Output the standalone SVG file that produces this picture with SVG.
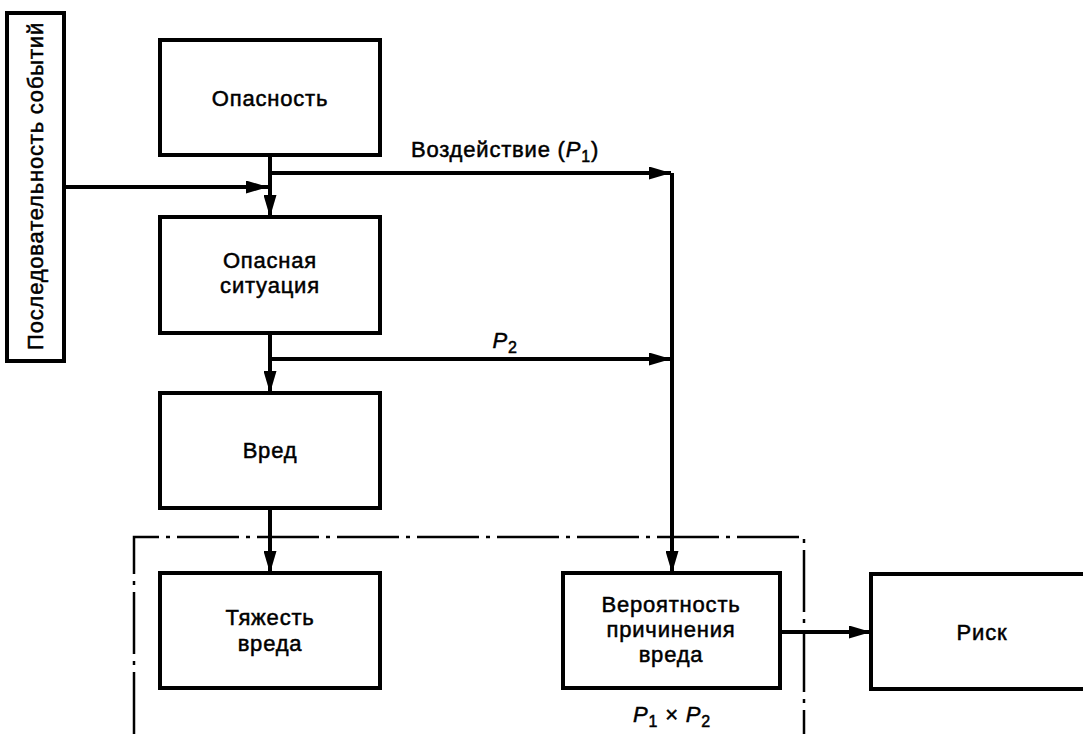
<svg xmlns="http://www.w3.org/2000/svg" width="1083" height="734" viewBox="0 0 1083 734">
<style>
.box{fill:#fff;stroke:#000;stroke-width:4}
.t{font-family:"Liberation Sans",Arial,sans-serif;font-size:22px;fill:#000;stroke:#000;stroke-width:0.5;text-anchor:middle;letter-spacing:0.8px}
.ln{fill:none;stroke:#000;stroke-width:4}
.dd{fill:none;stroke:#000;stroke-width:2.5;stroke-dasharray:62 7 4 7}
.i{font-style:italic}
</style>
<defs>
<marker id="ah" viewBox="0 0 22 13" refX="22" refY="6.5" markerWidth="22" markerHeight="13" markerUnits="userSpaceOnUse" orient="auto">
<path d="M0,0 L22,6.5 L0,13 Z" fill="#000"/>
</marker>
</defs>
<g id="frame">
<path class="dd" d="M134,734 L134,537 L804,537 L804,734"/>
</g>
<g id="n-sequence">
<rect class="box" x="7" y="13" width="57" height="348"/>
<text class="t" transform="translate(43,186) rotate(-90)">Последовательность событий</text>
</g>
<g id="n-hazard">
<rect class="box" x="160" y="40" width="220" height="115"/>
<text class="t" x="270" y="106">Опасность</text>
</g>
<g id="n-situation">
<rect class="box" x="160" y="217" width="220" height="116"/>
<text class="t" x="270" y="268">Опасная</text>
<text class="t" x="270" y="293">ситуация</text>
</g>
<g id="n-harm">
<rect class="box" x="160" y="393" width="220" height="115"/>
<text class="t" x="270" y="458">Вред</text>
</g>
<g id="n-severity">
<rect class="box" x="160" y="573" width="220" height="115"/>
<text class="t" x="270" y="625">Тяжесть</text>
<text class="t" x="270" y="651">вреда</text>
</g>
<g id="n-probability">
<rect class="box" x="563" y="573" width="217" height="115"/>
<text class="t" x="671" y="612">Вероятность</text>
<text class="t" x="671" y="637">причинения</text>
<text class="t" x="671" y="662">вреда</text>
</g>
<g id="n-risk">
<rect class="box" x="871" y="574" width="230" height="115"/>
<text class="t" x="982" y="640">Риск</text>
</g>
<g id="connectors">
<path class="ln" d="M270,155 L270,217" marker-end="url(#ah)"/>
<path class="ln" d="M64,187 L268,187" marker-end="url(#ah)"/>
<path class="ln" d="M270,173 L671,173" marker-end="url(#ah)"/>
<path class="ln" d="M672,173 L672,573" marker-end="url(#ah)"/>
<path class="ln" d="M270,333 L270,393" marker-end="url(#ah)"/>
<path class="ln" d="M270,359 L671,359" marker-end="url(#ah)"/>
<path class="ln" d="M270,508 L270,573" marker-end="url(#ah)"/>
<path class="ln" d="M780,632 L871,632" marker-end="url(#ah)"/>
</g>
<g id="labels">
<text class="t" x="505" y="157">Воздействие (<tspan class="i">P</tspan><tspan font-size="16" dy="5">1</tspan><tspan dy="-5">)</tspan></text>
<text class="t" x="505" y="348"><tspan class="i">P</tspan><tspan font-size="16" dy="5">2</tspan></text>
<text class="t" x="672" y="722"><tspan class="i">P</tspan><tspan font-size="16" dy="5">1</tspan><tspan dy="-5"> × </tspan><tspan class="i">P</tspan><tspan font-size="16" dy="5">2</tspan></text>
</g>
</svg>
